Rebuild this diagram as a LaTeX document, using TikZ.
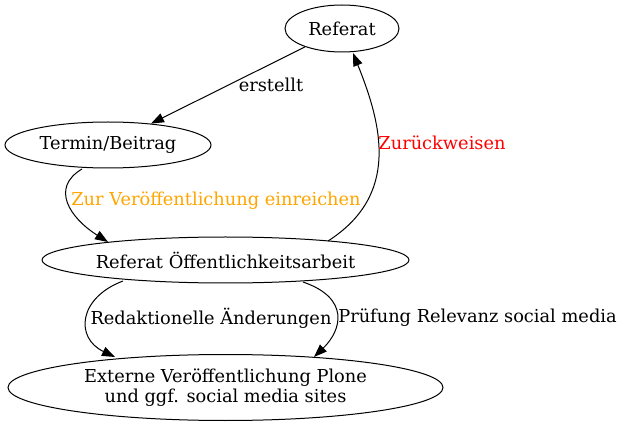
\documentclass[tikz,border=0pt]{standalone}
\usepackage{fontspec}
\setmainfont{DejaVu Serif}
\usetikzlibrary{arrows.meta,shapes.geometric}
\definecolor{gvorange}{RGB}{255,165,0}
\definecolor{gvred}{RGB}{255,0,0}
\tikzset{
  gvnode/.style={ellipse,draw=black,line width=1pt,inner sep=0pt,align=center,font=\fontsize{17.8}{19.5}\selectfont},
  gvedge/.style={draw=black,line width=1pt,-{Triangle[length=13pt,width=9.5pt]}},
  gvlabel/.style={inner sep=0pt,font=\fontsize{17.8}{19.5}\selectfont},
}
\begin{document}
\begin{tikzpicture}[x=1pt,y=-1pt]
\useasboundingbox (0,0) rectangle (624,430);
\node[gvnode,minimum width=114pt,minimum height=47pt] (R) at (342,28.5) {Referat};
\node[gvnode,minimum width=206pt,minimum height=46pt] (T) at (108,145) {Termin/Beitrag};
\node[gvnode,minimum width=367pt,minimum height=46pt] (O) at (225.5,260) {Referat Öffentlichkeitsarbeit};
\node[gvnode,minimum width=435pt,minimum height=66pt] (E) at (225.5,387.5) {Externe Veröffentlichung Plone\\und ggf. social media sites};
\coordinate (t1) at (82,169);
\coordinate (t2) at (108,242);
\coordinate (z1) at (328,241);
\coordinate (z2) at (353,53);
\coordinate (l1) at (123,281);
\coordinate (l2) at (115,357);
\coordinate (r1) at (303,282);
\coordinate (r2) at (314,357);
\draw[gvedge] (R) -- (T);
\draw[gvedge] (t1) .. controls (50,188) and (70,218) .. (t2);
\draw[gvedge] (z1) .. controls (400,195) and (382,125) .. (z2);
\draw[gvedge] (l1) .. controls (78,298) and (75,338) .. (l2);
\draw[gvedge] (r1) .. controls (350,298) and (342,330) .. (r2);
\node[gvlabel] (la) at (271,85) {erstellt};
\node[gvlabel,text=gvorange] (lb) at (216,201) {Zur Veröffentlichung einreichen};
\node[gvlabel,text=gvred] (lc) at (442,143) {Zurückweisen};
\node[gvlabel] (ld) at (211,318) {Redaktionelle Änderungen};
\node[gvlabel] (le) at (477.5,318) {Prüfung Relevanz social media};
\end{tikzpicture}
\end{document}
